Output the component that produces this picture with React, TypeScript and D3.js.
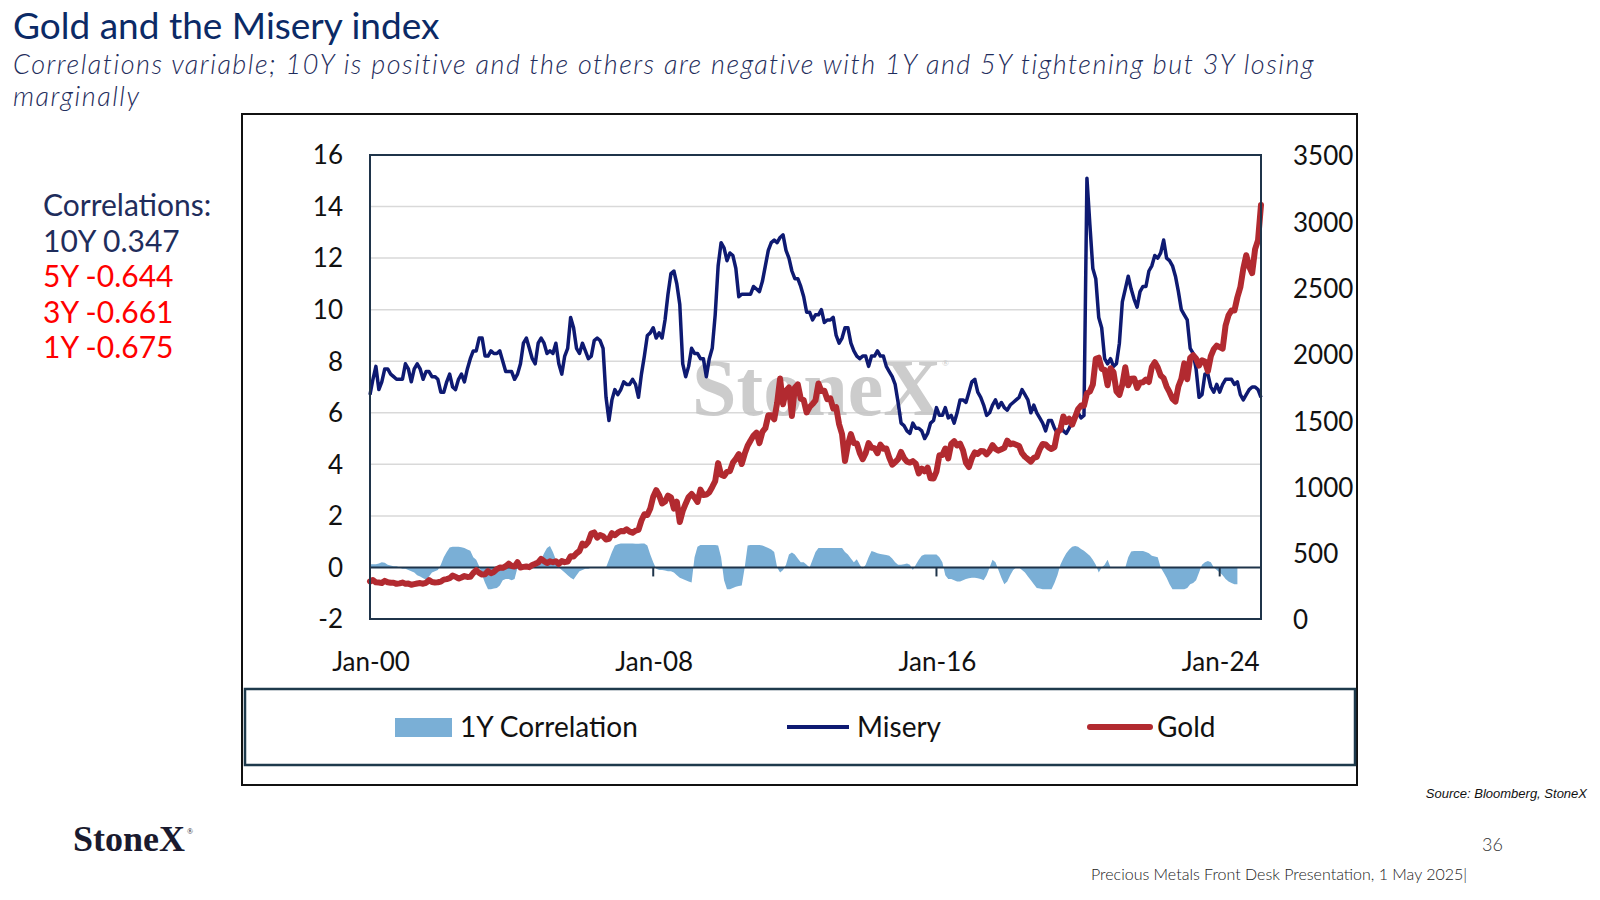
import React from 'react';
import * as d3 from 'd3';

// ---------- DATA (monthly, Jan 2000 – Mar 2025) ----------
const START_YEAR = 2000;

// Misery index (unemployment + CPI YoY), left axis
const MISERY: number[] = [
  6.7, 7.3, 7.8, 6.9, 7.2, 7.7, 7.7, 7.5, 7.4, 7.3, 7.3, 7.3, // 2000
  7.9, 7.7, 7.2, 7.7, 7.9, 7.7, 7.3, 7.6, 7.6, 7.4, 7.4, 7.3, // 2001
  6.8, 6.8, 7.2, 7.5, 7.0, 6.9, 7.3, 7.5, 7.2, 7.7, 8.1, 8.4, // 2002
  8.4, 8.9, 8.9, 8.2, 8.2, 8.4, 8.3, 8.3, 8.4, 8.0, 7.6, 7.6, // 2003
  7.6, 7.3, 7.5, 7.9, 8.7, 8.9, 8.5, 8.1, 7.9, 8.7, 8.9, 8.7, // 2004
  8.3, 8.4, 8.3, 8.7, 7.9, 7.5, 8.2, 8.5, 9.7, 9.3, 8.5, 8.3, // 2005
  8.7, 8.4, 8.1, 8.2, 8.8, 8.9, 8.8, 8.5, 6.6, 5.7, 6.5, 6.9, // 2006
  6.7, 6.9, 7.2, 7.1, 7.1, 7.3, 7.1, 6.6, 7.5, 8.2, 9.0, 9.1, // 2007
  9.3, 8.9, 9.1, 8.9, 9.6, 10.6, 11.4, 11.5, 11.0, 10.2, 7.9, 7.4, // 2008
  7.8, 8.5, 8.3, 8.3, 8.1, 8.1, 7.4, 8.1, 8.5, 9.8, 11.7, 12.6, // 2009
  12.4, 11.9, 12.2, 12.1, 11.6, 10.5, 10.6, 10.6, 10.6, 10.6, 10.9, 10.8, // 2010
  10.7, 11.1, 11.7, 12.3, 12.6, 12.7, 12.6, 12.8, 12.9, 12.3, 12.0, 11.5, // 2011
  11.2, 11.2, 10.9, 10.5, 9.9, 9.9, 9.6, 9.8, 9.8, 10.0, 9.5, 9.6, // 2012
  9.6, 9.7, 9.0, 8.7, 8.9, 9.3, 9.3, 8.7, 8.4, 8.2, 8.1, 8.2, // 2013
  8.2, 7.8, 8.2, 8.2, 8.4, 8.2, 8.2, 7.8, 7.6, 7.4, 7.1, 6.4, // 2014
  5.6, 5.5, 5.3, 5.2, 5.6, 5.4, 5.4, 5.3, 5.0, 5.2, 5.6, 5.7, // 2015
  6.2, 5.9, 5.9, 6.2, 5.8, 5.9, 5.6, 6.0, 6.5, 6.5, 6.4, 6.8, // 2016
  7.2, 7.3, 6.8, 6.6, 6.3, 5.9, 6.0, 6.3, 6.5, 6.2, 6.4, 6.2, // 2017
  6.1, 6.3, 6.4, 6.5, 6.6, 6.9, 6.7, 6.5, 6.0, 6.3, 6.0, 5.8, // 2018
  5.6, 5.3, 5.7, 5.7, 5.4, 5.2, 5.5, 5.3, 5.2, 5.4, 5.7, 5.9, // 2019
  6.0, 5.8, 5.9, 15.1, 13.3, 11.6, 11.2, 9.7, 9.3, 8.1, 7.9, 8.1, // 2020
  7.8, 7.9, 8.7, 10.3, 10.8, 11.3, 10.8, 10.4, 10.1, 10.7, 10.9, 10.9, // 2021
  11.5, 11.7, 12.1, 12.0, 12.2, 12.7, 12.0, 11.9, 11.7, 11.3, 10.7, 10.0, // 2022
  9.8, 9.6, 8.5, 8.3, 7.7, 6.6, 6.7, 7.5, 7.5, 7.0, 6.8, 7.1, // 2023
  6.8, 7.1, 7.3, 7.3, 7.3, 7.1, 7.2, 6.7, 6.5, 6.7, 6.9, 7.0, // 2024
  7.0, 6.9, 6.6, // 2025
];

// Gold price, USD/oz (month end), right axis
const GOLD: number[] = [
  283, 294, 277, 275, 272, 288, 277, 273, 274, 265, 269, 275, // 2000
  266, 267, 258, 263, 268, 271, 266, 273, 293, 279, 276, 277, // 2001
  282, 297, 301, 308, 327, 319, 305, 313, 324, 317, 318, 347, // 2002
  368, 348, 335, 337, 361, 346, 355, 376, 388, 386, 398, 417, // 2003
  400, 396, 428, 389, 393, 396, 391, 407, 416, 426, 453, 436, // 2004
  422, 435, 428, 436, 415, 437, 429, 433, 473, 471, 496, 513, // 2005
  569, 556, 582, 644, 653, 614, 633, 624, 599, 604, 647, 632, // 2006
  651, 664, 662, 677, 659, 651, 666, 672, 743, 790, 784, 834, // 2007
  923, 972, 934, 871, 886, 930, 918, 833, 885, 731, 815, 870, // 2008
  920, 943, 917, 883, 976, 935, 939, 956, 996, 1040, 1176, 1088, // 2009
  1079, 1110, 1116, 1179, 1208, 1244, 1169, 1246, 1307, 1347, 1384, 1406, // 2010
  1327, 1411, 1439, 1536, 1537, 1506, 1629, 1814, 1620, 1722, 1746, 1531, // 2011
  1744, 1770, 1663, 1651, 1558, 1599, 1622, 1649, 1776, 1719, 1722, 1658, // 2012
  1665, 1589, 1598, 1469, 1395, 1192, 1315, 1395, 1327, 1324, 1253, 1205, // 2013
  1251, 1327, 1292, 1289, 1251, 1315, 1285, 1286, 1217, 1164, 1183, 1206, // 2014
  1260, 1214, 1187, 1180, 1191, 1171, 1098, 1135, 1114, 1142, 1061, 1060, // 2015
  1112, 1235, 1237, 1286, 1212, 1321, 1342, 1309, 1323, 1272, 1178, 1146, // 2016
  1213, 1256, 1245, 1267, 1266, 1242, 1268, 1312, 1283, 1270, 1280, 1291, // 2017
  1345, 1318, 1324, 1315, 1305, 1251, 1224, 1206, 1187, 1215, 1223, 1279, // 2018
  1320, 1316, 1295, 1282, 1296, 1409, 1428, 1528, 1485, 1511, 1466, 1523, // 2019
  1583, 1610, 1609, 1703, 1716, 1768, 1963, 1971, 1887, 1880, 1763, 1891, // 2020
  1863, 1718, 1691, 1769, 1899, 1763, 1812, 1814, 1743, 1783, 1786, 1806, // 2021
  1788, 1901, 1937, 1897, 1837, 1817, 1753, 1711, 1661, 1640, 1754, 1812, // 2022
  1928, 1809, 1969, 1990, 1963, 1912, 1951, 1942, 1870, 1983, 2036, 2062, // 2023
  2051, 2039, 2214, 2291, 2327, 2327, 2427, 2503, 2643, 2744, 2657, 2609, // 2024
  2790, 2858, 3123, // 2025
];

// Rolling 1Y correlation (left axis), Jan 2000 – Jul 2024
const CORR_1Y: number[] = [
  0.12, 0.12, 0.12, 0.15, 0.2, 0.18, 0.1, 0.08, 0.05, 0.05, 0.0, -0.05, // 2000
  -0.05, -0.1, -0.15, -0.2, -0.3, -0.35, -0.42, -0.47, -0.35, -0.2, -0.15, -0.1, // 2001
  0.1, 0.4, 0.6, 0.77, 0.8, 0.8, 0.8, 0.78, 0.75, 0.7, 0.65, 0.4, // 2002
  0.3, 0.05, -0.3, -0.6, -0.85, -0.85, -0.82, -0.8, -0.7, -0.5, -0.45, -0.45, // 2003
  -0.5, -0.45, 0.0, 0.1, 0.1, 0.08, 0.1, 0.1, 0.1, 0.15, 0.3, 0.55, // 2004
  0.75, 0.83, 0.6, 0.3, 0.0, -0.1, -0.2, -0.3, -0.4, -0.47, -0.3, -0.15, // 2005
  -0.1, -0.05, -0.05, 0.0, 0.0, 0.0, 0.0, 0.0, 0.0, 0.3, 0.6, 0.85, // 2006
  0.9, 0.93, 0.93, 0.93, 0.93, 0.93, 0.92, 0.92, 0.93, 0.93, 0.85, 0.5, // 2007
  0.2, -0.05, -0.1, -0.1, -0.12, -0.15, -0.15, -0.2, -0.3, -0.4, -0.45, -0.5, // 2008
  -0.55, -0.58, 0.4, 0.8, 0.87, 0.87, 0.87, 0.87, 0.87, 0.87, 0.85, 0.4, // 2009
  -0.5, -0.85, -0.85, -0.8, -0.75, -0.72, -0.7, 0.0, 0.85, 0.87, 0.87, 0.87, // 2010
  0.87, 0.85, 0.8, 0.75, 0.7, 0.6, 0.0, -0.2, -0.1, 0.1, 0.5, 0.58, // 2011
  0.5, 0.35, 0.2, 0.2, 0.1, 0.0, 0.3, 0.6, 0.75, 0.75, 0.75, 0.75, // 2012
  0.75, 0.75, 0.75, 0.75, 0.75, 0.6, 0.5, 0.35, 0.2, 0.32, 0.1, -0.05, // 2013
  0.1, 0.4, 0.64, 0.6, 0.55, 0.52, 0.5, 0.48, 0.45, 0.35, 0.2, 0.1, // 2014
  0.1, 0.12, 0.15, 0.1, -0.1, 0.1, 0.3, 0.45, 0.5, 0.5, 0.5, 0.5, // 2015
  0.5, 0.4, 0.2, -0.3, -0.45, -0.45, -0.5, -0.55, -0.55, -0.5, -0.45, -0.42, // 2016
  -0.4, -0.4, -0.42, -0.45, -0.5, -0.3, 0.0, 0.3, 0.2, -0.1, -0.4, -0.65, // 2017
  -0.55, -0.3, -0.1, 0.0, 0.0, -0.1, -0.2, -0.35, -0.5, -0.65, -0.8, -0.82, // 2018
  -0.85, -0.85, -0.85, -0.85, -0.6, -0.3, 0.1, 0.35, 0.55, 0.7, 0.8, 0.83, // 2019
  0.8, 0.72, 0.65, 0.55, 0.45, 0.3, 0.1, -0.2, 0.0, 0.1, 0.3, 0.0, // 2020
  0.0, 0.0, 0.0, 0.0, 0.0, 0.4, 0.62, 0.64, 0.64, 0.64, 0.64, 0.6, // 2021
  0.55, 0.45, 0.42, 0.4, 0.0, -0.2, -0.4, -0.65, -0.85, -0.85, -0.85, -0.85, // 2022
  -0.85, -0.8, -0.65, -0.6, -0.5, -0.2, 0.1, 0.2, 0.25, 0.2, 0.0, -0.1, // 2023
  -0.2, -0.3, -0.45, -0.55, -0.6, -0.65, -0.65, // 2024
];

const LEFT_TICKS = [-2, 0, 2, 4, 6, 8, 10, 12, 14, 16];
const RIGHT_TICKS = [0, 500, 1000, 1500, 2000, 2500, 3000, 3500];
const X_TICK_YEARS = [2000, 2008, 2016, 2024];
const X_TICK_LABELS = ['Jan-00', 'Jan-08', 'Jan-16', 'Jan-24'];

const CORR_LINES = [
  { text: 'Correlations:', color: '#1f2d5c' },
  { text: '10Y 0.347', color: '#1f2d5c' },
  { text: '5Y -0.644', color: '#ff0000' },
  { text: '3Y -0.661', color: '#ff0000' },
  { text: '1Y -0.675', color: '#ff0000' },
];

const TITLE = 'Gold and the Misery index';
const SUBTITLE_1 =
  'Correlations variable; 10Y is positive and the others are negative with 1Y and 5Y tightening but 3Y losing';
const SUBTITLE_2 = 'marginally';

// ---------- STYLE ----------
const FONT = "Lato, 'Open Sans', Roboto, sans-serif";
const SERIF = "'Liberation Serif', 'DejaVu Serif', serif";
const C_MISERY = '#0e1a72';
const C_GOLD = '#b22a30';
const C_CORR = '#7aafd6';
const C_AXIS = '#1f344a';
const C_GRID = '#d9d9d9';

const PL = 370, PR = 1261, PT = 155, PB = 619;

export default function App() {
  const x = d3.scaleLinear().domain([0, MISERY.length - 1]).range([PL, PR]);
  const yL = d3.scaleLinear().domain([-2, 16]).range([PB, PT]);
  const yR = d3.scaleLinear().domain([0, 3500]).range([PB, PT]);

  const miseryLine = d3.line<number>().x((_, i) => x(i)).y((d) => yL(d))(MISERY) || '';
  const goldLine = d3.line<number>().x((_, i) => x(i)).y((d) => yR(d))(GOLD) || '';
  const corrArea =
    d3.area<number>().x((_, i) => x(i)).y0(yL(0)).y1((d) => yL(d))(CORR_1Y) || '';

  const monthIndex = (yr: number) => (yr - START_YEAR) * 12;

  return (
    <svg
      width={1600}
      height={900}
      viewBox="0 0 1600 900"
      style={{ position: 'absolute', left: 0, top: 0, background: '#fff' }}
    >
      <rect x={0} y={0} width={1600} height={900} fill="#fff" />

      {/* Titles */}
      <text x={13} y={39} fontFamily={FONT} fontSize={37} fill="#0b2a66">
        {TITLE}
      </text>
      <text
        x={13}
        y={74}
        fontFamily={FONT}
        fontSize={27}
        fontStyle="italic"
        fontWeight={300}
        letterSpacing={1.5}
        fill="#1f2d5c"
      >
        {SUBTITLE_1}
      </text>
      <text
        x={13}
        y={106}
        fontFamily={FONT}
        fontSize={27}
        fontStyle="italic"
        fontWeight={300}
        letterSpacing={1.5}
        fill="#1f2d5c"
      >
        {SUBTITLE_2}
      </text>

      {/* Correlations block */}
      {CORR_LINES.map((l, i) => (
        <text key={l.text} x={43} y={216 + i * 35.6} fontFamily={FONT} fontSize={30} fontWeight={400} fill={l.color}>
          {l.text}
        </text>
      ))}

      {/* Outer chart frame */}
      <rect x={242} y={114} width={1115} height={671} fill="none" stroke="#111" strokeWidth={2} />

      {/* Gridlines */}
      {LEFT_TICKS.filter((t) => t !== -2 && t !== 0 && t !== 16).map((t) => (
        <line key={t} x1={PL} x2={PR} y1={yL(t)} y2={yL(t)} stroke={C_GRID} strokeWidth={1.5} />
      ))}

      {/* Watermark */}
      <text x={692} y={415} fontFamily={SERIF} fontSize={80} fontWeight="bold" fill="#c4c4c4" opacity={0.85}>
        StoneX
      </text>
      <text x={942} y={366} fontFamily={SERIF} fontSize={9} fill="#c4c4c4">
        ®
      </text>

      {/* Correlation area */}
      <path d={corrArea} fill={C_CORR} stroke="none" />

      {/* Zero axis with ticks */}
      <line x1={PL} x2={PR} y1={yL(0)} y2={yL(0)} stroke={C_AXIS} strokeWidth={2} />
      {X_TICK_YEARS.map((yr) => (
        <line
          key={yr}
          x1={x(monthIndex(yr))}
          x2={x(monthIndex(yr))}
          y1={yL(0)}
          y2={yL(0) + 9}
          stroke={C_AXIS}
          strokeWidth={2}
        />
      ))}

      {/* Series lines */}
      <path d={miseryLine} fill="none" stroke={C_MISERY} strokeWidth={3.5} strokeLinejoin="round" />
      <path d={goldLine} fill="none" stroke={C_GOLD} strokeWidth={6} strokeLinejoin="round" strokeLinecap="round" />

      {/* Plot border */}
      <rect x={PL} y={PT} width={PR - PL} height={PB - PT} fill="none" stroke={C_AXIS} strokeWidth={2} />

      {/* Left axis labels */}
      {LEFT_TICKS.map((t) => (
        <text
          key={t}
          x={343}
          y={yL(t)}
          dy="0.36em"
          textAnchor="end"
          fontFamily={FONT}
          fontSize={26}
          fill="#111"
        >
          {t}
        </text>
      ))}

      {/* Right axis labels */}
      {RIGHT_TICKS.map((t) => (
        <text key={t} x={1293} y={yR(t)} dy="0.4em" textAnchor="start" fontFamily={FONT} fontSize={26} fill="#111">
          {t}
        </text>
      ))}

      {/* X axis labels */}
      {X_TICK_YEARS.map((yr, i) => (
        <text
          key={yr}
          x={x(monthIndex(yr)) + 1}
          y={671}
          textAnchor="middle"
          fontFamily={FONT}
          fontSize={26}
          fill="#111"
        >
          {X_TICK_LABELS[i]}
        </text>
      ))}

      {/* Legend */}
      <rect x={245} y={689} width={1110} height={76} fill="#fff" stroke="#1e3a4c" strokeWidth={2.5} />
      <rect x={395} y={718} width={57} height={19} fill={C_CORR} />
      <text x={460} y={737} fontFamily={FONT} fontSize={28} fill="#111">
        1Y Correlation
      </text>
      <line x1={787} x2={849} y1={727} y2={727} stroke={C_MISERY} strokeWidth={4} />
      <text x={857} y={737} fontFamily={FONT} fontSize={28} fill="#111">
        Misery
      </text>
      <line x1={1090} x2={1150} y1={727} y2={727} stroke={C_GOLD} strokeWidth={6} strokeLinecap="round" />
      <text x={1157} y={737} fontFamily={FONT} fontSize={28} fill="#111">
        Gold
      </text>

      {/* Footer */}
      <text
        x={1587}
        y={798}
        textAnchor="end"
        fontFamily="'Liberation Sans', Arial, sans-serif"
        fontSize={13}
        fontStyle="italic"
        fill="#111"
      >
        Source: Bloomberg, StoneX
      </text>
      <text x={73} y={851} fontFamily={SERIF} fontSize={36} fontWeight="bold" fill="#1a1a2e">
        StoneX
      </text>
      <text x={187} y={834} fontFamily={SERIF} fontSize={8} fill="#1a1a2e">
        ®
      </text>
      <text x={1482} y={851} fontFamily={FONT} fontSize={18} fontWeight={300} fill="#333">
        36
      </text>
      <text x={1091} y={880} fontFamily={FONT} fontSize={16} fontWeight={300} fill="#222">
        Precious Metals Front Desk Presentation, 1 May 2025|
      </text>
    </svg>
  );
}
